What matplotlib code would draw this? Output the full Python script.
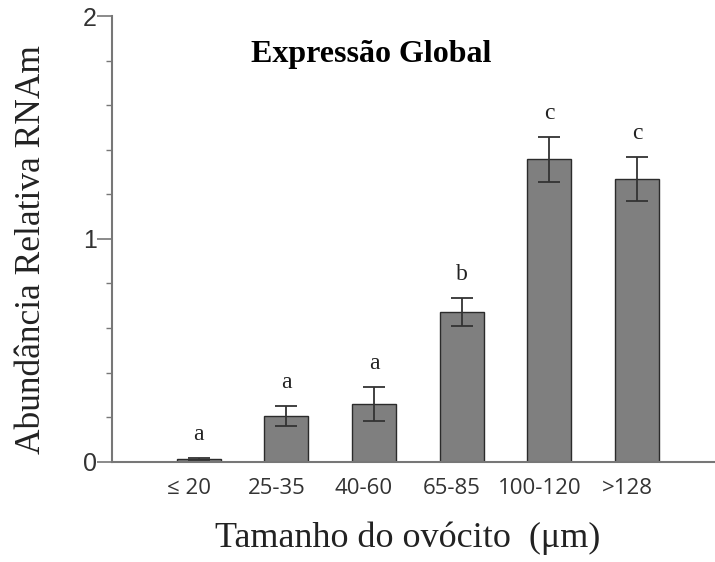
import matplotlib
matplotlib.use("Agg")
import matplotlib.pyplot as plt
from matplotlib.ticker import MultipleLocator
from matplotlib.transforms import ScaledTranslation

categories = ["\u2264 20", "25-35", "40-60", "65-85", "100-120", ">128"]
values = [0.012, 0.205, 0.258, 0.672, 1.358, 1.268]
errors = [0.005, 0.047, 0.077, 0.064, 0.101, 0.100]
letters = ["a", "a", "a", "b", "c", "c"]

fig = plt.figure(figsize=(7.15, 5.62), dpi=100)
ax = fig.add_axes([0.1566, 0.1785, 0.8434, 0.793])

x = list(range(len(categories)))
ax.bar(x, values, width=0.5, color="#7f7f7f", edgecolor="#2b2b2b", linewidth=1.0,
       yerr=errors, error_kw=dict(ecolor="#333333", elinewidth=1.3, capsize=8, capthick=1.3),
       zorder=2)

for xi, v, e, l in zip(x, values, errors, letters):
    ax.text(xi, v + e + 0.105, l, ha="center", va="center", family="Liberation Serif",
            fontsize=17, color="#222222")

ax.set_xlim(-0.99, 5.89)
ax.set_ylim(0, 2)
ax.set_xticks(x)
ax.set_xticklabels(categories, family="Open Sans", fontsize=16, color="#333333")
ax.tick_params(axis="x", length=0, pad=12)
offset = ScaledTranslation(-10 / 100, 0, fig.dpi_scale_trans)
for lab in ax.get_xticklabels():
    lab.set_transform(lab.get_transform() + offset)
ax.set_yticks([0, 1, 2])
ax.set_yticklabels(["0", "1", "2"], family="Liberation Sans", fontsize=18, color="#333333")
ax.yaxis.set_minor_locator(MultipleLocator(0.2))
ax.tick_params(axis="y", which="major", length=11, width=1.2, color="#777777", pad=0)
ax.tick_params(axis="y", which="minor", length=4, width=1, color="#777777")

for s in ["top", "right"]:
    ax.spines[s].set_visible(False)
for s in ["left", "bottom"]:
    ax.spines[s].set_color("#777777")
    ax.spines[s].set_linewidth(1.5)

fig.text(32 / 715, 1 - 250 / 562, "Abund\u00e2ncia Relativa RNAm", rotation=90,
         ha="center", va="center", family="Liberation Serif", fontsize=25.5, color="#222222")
fig.text(408 / 715, 1 - 547 / 562, "Tamanho do ov\u00f3cito  (\u03bcm)", ha="center",
         va="baseline", family="Liberation Serif", fontsize=26, color="#222222")
ax.text(0.43, 0.913, "Express\u00e3o Global", transform=ax.transAxes, ha="center", va="center",
        family="Liberation Serif", fontweight="bold", fontsize=23, color="#000000")

fig.savefig("out.png", dpi=100)
